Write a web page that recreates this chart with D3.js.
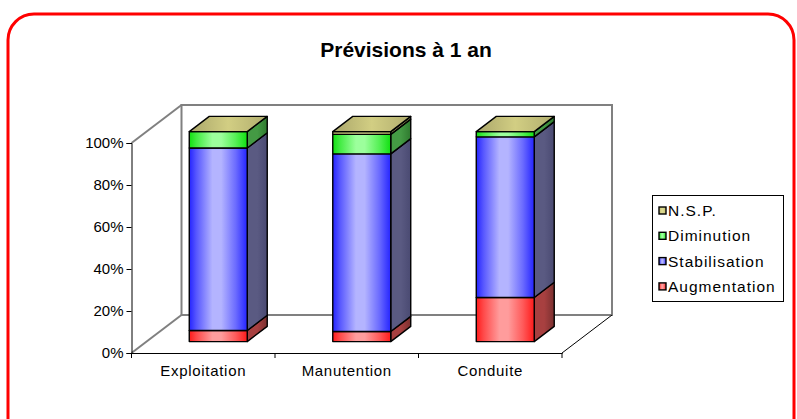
<!DOCTYPE html>
<html><head><meta charset="utf-8">
<script src="https://cdn.jsdelivr.net/npm/d3@7"></script>
<style>body{margin:0;background:#fff}svg{display:block;font-family:"Liberation Sans",Arial,sans-serif}</style>
</head><body>
<svg id="c" width="797" height="419"></svg>
<script>
const categories = ["Exploitation", "Manutention", "Conduite"];
const seriesNames = ["Augmentation", "Stabilisation", "Diminution", "N.S.P."];
const augmentation = [0.053, 0.048, 0.21];
const stabilisation = [0.869, 0.846, 0.765];
const diminution = [0.078, 0.093, 0.025];
const nsp = [0.0, 0.013, 0.0];
const yTicks = [0, 0.2, 0.4, 0.6, 0.8, 1.0];
const yTickLabels = ["0%", "20%", "40%", "60%", "80%", "100%"];

const seriesValues = [augmentation, stabilisation, diminution, nsp];
const palette = {
  "Augmentation": {edge:"#ff1a1a", mid:"#ff9c9c", side1:"#7a3030", side2:"#a84040", top:"#e05050"},
  "Stabilisation": {edge:"#2424ff", mid:"#b4b4ff", side1:"#4a4a72", side2:"#5a5a82", top:"#6a6ad0"},
  "Diminution": {edge:"#10e010", mid:"#9cff9c", side1:"#2f7a2f", side2:"#449a44", top:"#60c060"},
  "N.S.P.": {edge:"#bfbd6c", mid:"#dcd990", side1:"#8a8a50", side2:"#a09c60", top:"#c4c07a"}
};

const svg = d3.select("#c");
const defs = svg.append("defs");
seriesNames.forEach((s,i)=>{
  const p = palette[s];
  const g = defs.append("linearGradient").attr("id","f"+i).attr("x1","0").attr("x2","1").attr("y1","0").attr("y2","0");
  [[0,p.edge],[0.12,d3.interpolateRgb(p.edge,p.mid)(0.35)],[0.4,p.mid],[0.55,p.mid],[0.8,d3.interpolateRgb(p.edge,p.mid)(0.5)],[1,p.edge]]
    .forEach(([o,c])=>g.append("stop").attr("offset",o).attr("stop-color",c));
  const gs = defs.append("linearGradient").attr("id","s"+i).attr("x1","0").attr("x2","1").attr("y1","0").attr("y2","0");
  gs.append("stop").attr("offset",0).attr("stop-color",p.side2);
  gs.append("stop").attr("offset",0.5).attr("stop-color",p.side2);
  gs.append("stop").attr("offset",1).attr("stop-color",p.side1);
  const gt = defs.append("linearGradient").attr("id","t"+i).attr("x1","0").attr("x2","1").attr("y1","0").attr("y2","0");
  gt.append("stop").attr("offset",0).attr("stop-color",d3.color(p.top).darker(0.4));
  gt.append("stop").attr("offset",0.5).attr("stop-color",d3.color(p.top).brighter(0.2));
  gt.append("stop").attr("offset",1).attr("stop-color",d3.color(p.top).darker(0.3));
});

// frame
svg.append("rect").attr("x",8).attr("y",14).attr("width",786).attr("height",440)
  .attr("rx",26).attr("fill","#fff").attr("stroke","#ff0000").attr("stroke-width",3);

svg.append("text").attr("x",406).attr("y",57).attr("text-anchor","middle")
  .attr("font-size",21).attr("font-weight","bold").text("Prévisions à 1 an");

const x0 = 131.5, x1 = 562, yBase = 353, yTop = 143;
const D = {dx:50, dy:-38};
const x = d3.scaleBand().domain(categories).range([x0,x1]).paddingInner(0.596).paddingOuter(0.298);
const y = d3.scaleLinear().domain([0,1]).range([yBase,yTop]);

// back wall & side wall
const wall = svg.append("g").attr("fill","none").attr("stroke","#808080").attr("stroke-width",2);
wall.append("rect").attr("x",x0+D.dx).attr("y",yTop+D.dy).attr("width",x1-x0).attr("height",yBase-yTop);
wall.append("line").attr("x1",x0).attr("y1",yTop).attr("x2",x0+D.dx).attr("y2",yTop+D.dy);
wall.append("line").attr("x1",x0).attr("y1",yBase).attr("x2",x0+D.dx).attr("y2",yBase+D.dy);
svg.append("line").attr("x1",x1).attr("y1",yBase).attr("x2",x1+D.dx).attr("y2",yBase+D.dy)
  .attr("stroke","#000").attr("stroke-width",1);

// y axis
const yAxis = d3.axisLeft(y).tickValues(yTicks).tickFormat((d,i)=>yTickLabels[i]).tickSize(5).tickPadding(3);
const ya = svg.append("g").attr("transform",`translate(${x0},0)`).call(yAxis);
ya.select(".domain").attr("stroke","#000");
ya.selectAll("text").attr("font-size",15).attr("fill","#000").attr("font-family","Liberation Sans, Arial, sans-serif");

// x axis
const xa = svg.append("g").attr("transform",`translate(0,${yBase})`)
  .call(d3.axisBottom(x).tickSize(0).tickPadding(12));
xa.select(".domain").attr("stroke","#000").attr("stroke-width",1.2);
xa.selectAll("text").attr("font-size",15).attr("fill","#000").attr("letter-spacing","0.7px")
  .attr("font-family","Liberation Sans, Arial, sans-serif");
const step = x.step();
const bounds = [x0].concat(categories.map(c=>x(c)-step*x.paddingInner()/2+step));
xa.selectAll(".sep").data(bounds).enter().append("line")
  .attr("x1",d=>d).attr("x2",d=>d).attr("y1",0).attr("y2",5).attr("stroke","#000");

// bars
const fo = {dx:D.dx*0.3, dy:D.dy*0.3};
const bd = {dx:D.dx*0.4, dy:D.dy*0.4};
const bars = svg.append("g").attr("stroke","#000").attr("stroke-width",1.4).attr("stroke-linejoin","round");
categories.forEach((c,ci)=>{
  let cum = 0;
  const bx = x(c)+fo.dx, bw = x.bandwidth();
  seriesNames.forEach((s,si)=>{
    const v = seriesValues[si][ci];
    const yb = y(cum)+fo.dy, yt = y(cum+v)+fo.dy;
    cum += v;
    if (v > 0) {
      bars.append("path").attr("fill",`url(#s${si})`)
        .attr("d",`M${bx+bw},${yb}L${bx+bw+bd.dx},${yb+bd.dy}L${bx+bw+bd.dx},${yt+bd.dy}L${bx+bw},${yt}Z`);
      bars.append("rect").attr("fill",`url(#f${si})`)
        .attr("x",bx).attr("y",yt).attr("width",bw).attr("height",yb-yt);
    }
    if (si === seriesNames.length-1) {
      bars.append("path").attr("fill",`url(#t${si})`)
        .attr("d",`M${bx},${yt}L${bx+bd.dx},${yt+bd.dy}L${bx+bw+bd.dx},${yt+bd.dy}L${bx+bw},${yt}Z`);
    }
  });
});

// legend
const lg = svg.append("g");
lg.append("rect").attr("x",652.5).attr("y",195.5).attr("width",131).attr("height",106)
  .attr("fill","#fff").attr("stroke","#000").attr("stroke-width",1);
const legendOrder = seriesNames.slice().reverse();
legendOrder.forEach((s,i)=>{
  const si = seriesNames.indexOf(s);
  const yy = 210.5 + i*25.3;
  lg.append("rect").attr("x",659).attr("y",yy-3.5).attr("width",7).attr("height",7)
    .attr("fill",`url(#f${si})`).attr("stroke","#000").attr("stroke-width",1.4);
  lg.append("text").attr("x",668).attr("y",yy).attr("dy","0.35em").attr("font-size",15.5)
    .attr("letter-spacing","1px").text(s);
});
</script>
</body></html>
